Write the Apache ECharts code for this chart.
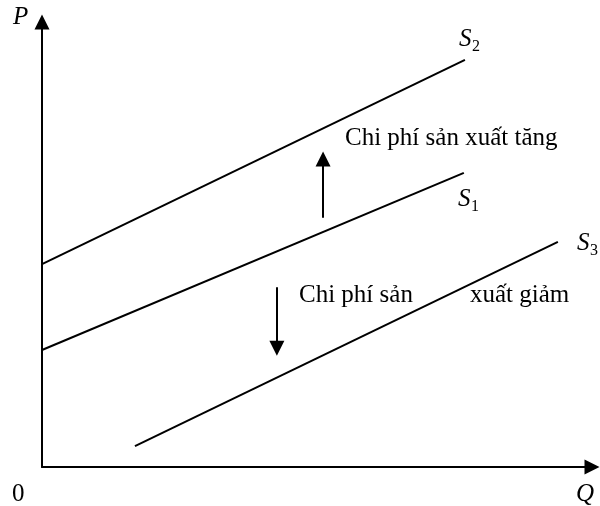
<!DOCTYPE html>
<html>
<head>
<meta charset="utf-8">
<script src="https://cdn.jsdelivr.net/npm/echarts@6/dist/echarts.min.js"></script>
<style>
  html, body { margin: 0; padding: 0; background: #fff; }
  #main { width: 600px; height: 506px; }
</style>
</head>
<body>
<div id="main"></div>
<script>
// supply curves as [Q, P] end points
var s2 = [[0, 4.56], [7.69, 9.15]];
var s1 = [[0, 2.63], [7.67, 6.61]];
var s3 = [[1.69, 0.47], [9.38, 5.06]];
// shift arrows (start -> head)
var upShift = [[5.11, 5.6], [5.11, 6.92]];
var downShift = [[4.27, 4.04], [4.27, 2.67]];
var axisNames = ['Q', 'P'];
var shiftTexts = ['Chi phí sản xuất tăng', 'Chi phí sản', 'xuất giảm'];

var font = '"Liberation Serif", "Times New Roman", serif';

var theChart = echarts.init(document.getElementById('main'));

function curve(data) {
    return {
        type: 'line',
        data: data,
        symbol: 'none',
        silent: true,
        lineStyle: { color: '#000', width: 2 }
    };
}

function txt(x, y, text, size, italic) {
    return {
        type: 'text',
        x: x,
        y: y,
        silent: true,
        style: {
            text: text,
            font: (italic ? 'italic ' : '') + size + 'px ' + font,
            fill: '#000',
            verticalAlign: 'bottom'
        }
    };
}

var option = {
    backgroundColor: '#fff',
    animation: false,
    grid: { left: 42, top: 22, width: 550, height: 445 },
    xAxis: {
        type: 'value', min: 0, max: 10,
        splitLine: { show: false }, axisTick: { show: false }, axisLabel: { show: false },
        axisLine: { lineStyle: { color: '#000', width: 2 }, symbol: ['none', 'triangle'], symbolSize: [15, 15] }
    },
    yAxis: {
        type: 'value', min: 0, max: 10,
        splitLine: { show: false }, axisTick: { show: false }, axisLabel: { show: false },
        axisLine: { lineStyle: { color: '#000', width: 2 }, symbol: ['none', 'triangle'], symbolSize: [15, 15] }
    },
    series: [
        curve(s2),
        curve(s1),
        curve(s3),
        {
            type: 'lines',
            coordinateSystem: 'cartesian2d',
            silent: true,
            symbol: ['none', 'triangle'],
            symbolSize: 15,
            lineStyle: { color: '#000', width: 2, opacity: 1 },
            data: [{ coords: upShift }, { coords: downShift }]
        }
    ],
    graphic: [
        txt(13, 30, axisNames[1], 25, true),
        txt(12, 507, '0', 25, false),
        txt(576, 507, axisNames[0], 25, true),
        txt(459, 52, 'S', 25, true),
        txt(472, 55, '2', 16, false),
        txt(458, 212, 'S', 25, true),
        txt(471, 215, '1', 16, false),
        txt(577, 256, 'S', 25, true),
        txt(590, 259, '3', 16, false),
        txt(345, 151, shiftTexts[0], 25, false),
        txt(299, 308, shiftTexts[1], 25, false),
        txt(470, 308, shiftTexts[2], 25, false)
    ]
};
theChart.setOption(option);
</script>
</body>
</html>
